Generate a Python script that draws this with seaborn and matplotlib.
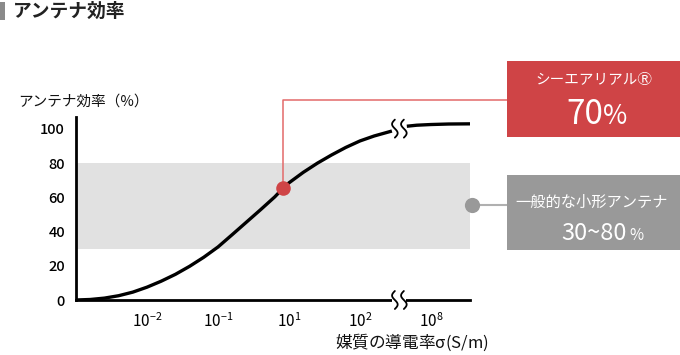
import matplotlib
matplotlib.use("Agg")
import matplotlib.pyplot as plt
import seaborn as sns
import pandas as pd
import numpy as np
from matplotlib.patches import Rectangle

# ---------------- data ----------------
title = "アンテナ効率"
y_label = "アンテナ効率（%）"
x_label = "媒質の導電率$\\sigma$(S/m)"
tick_labels = ["$10^{-2}$", "$10^{-1}$", "$10^{1}$", "$10^{2}$", "$10^{8}$"]
y_ticks = [0, 20, 40, 60, 80, 100]

# curve (x in tick-index units), split by axis break
curve_x_low = [0.0, 0.2, 0.4, 0.6, 0.8, 1.0, 1.2, 1.4, 1.6, 1.8, 2.0, 2.2, 2.4,
               2.6, 2.8, 2.92, 3.0, 3.2, 3.4, 3.6, 3.8, 4.0, 4.2, 4.45]
curve_y_low = [0.0, 0.3, 1.1, 2.5, 4.6, 7.5, 11.0, 15.0, 19.7, 25.0, 31.0, 38.2,
               45.5, 52.8, 60.3, 65.5, 68.5, 74.6, 80.0, 84.8, 89.2, 93.0, 95.9, 98.8]
curve_x_high = [4.66, 4.8, 5.0, 5.25, 5.55]
curve_y_high = [101.6, 102.2, 102.6, 102.9, 103.0]

band_low, band_high = 30, 80
highlight_x, highlight_y = 2.92, 65.5
highlight_name = "シーエアリアルⓇ"
highlight_value = "70"
band_name = "一般的な小形アンテナ"
band_value = "30~80"
break_x = 4.555

# ---------------- style ----------------
sns.set_theme(style="white")
plt.rcParams["font.family"] = ["Noto Sans CJK JP", "DejaVu Sans"]
plt.rcParams["mathtext.fontset"] = "custom"
plt.rcParams["mathtext.rm"] = "Noto Sans CJK JP:medium"
plt.rcParams["mathtext.it"] = "DejaVu Sans:italic"
plt.rcParams["mathtext.default"] = "regular"

RED = "#cf4446"
RED_LINE = "#e36a6a"
GRAY_BOX = "#999999"
GRAY_BAND = "#e1e1e1"
GRAY_LINE = "#b0b0b0"

W, H = 680, 355
fig = plt.figure(figsize=(6.8, 3.55), dpi=100)
ax = fig.add_axes([76 / W, 1 - 300 / H, 394 / W, 183 / H])

df = pd.DataFrame({
    "x": curve_x_low + curve_x_high,
    "y": curve_y_low + curve_y_high,
    "seg": ["a"] * len(curve_x_low) + ["b"] * len(curve_x_high),
})

ax.axhspan(band_low, band_high, color=GRAY_BAND, lw=0, zorder=0)
sns.lineplot(data=df, x="x", y="y", units="seg", estimator=None, color="black",
             lw=2.4, ax=ax, zorder=3, solid_capstyle="butt")

ax.set_xlim(0, 5.55)
ax.set_ylim(0, 107)
ax.set_xticks(range(1, len(tick_labels) + 1))
ax.set_xticklabels(tick_labels, fontsize=11)
ax.set_yticks(y_ticks)
ax.set_yticklabels([str(v) for v in y_ticks], fontsize=10.5, fontweight="medium")
ax.set_xlabel("")
ax.set_ylabel("")
for s in ["top", "right"]:
    ax.spines[s].set_visible(False)
for s in ["left", "bottom"]:
    ax.spines[s].set_linewidth(2.0)
    ax.spines[s].set_color("black")
ax.tick_params(axis="both", length=5, width=2, direction="out", color="black",
               labelcolor="black")
ax.tick_params(axis="y", pad=3)
ax.tick_params(axis="x", pad=4)
ax.set_facecolor("none")

# break marks (wavy) on curve and axis
px_x = 1 / 71.0
px_y = 107 / 183.0
t = np.linspace(0, 1, 40)
def wave(xc, yc, hpx=9):
    xs = xc + 2.8 * px_x * np.sin(2 * np.pi * t)
    ys = yc + (t - 0.5) * 2 * hpx * px_y
    ax.plot(xs, ys, color="black", lw=1.3, clip_on=False, zorder=6)

for yc in [100.2, 0]:
    if yc == 0:
        ax.add_patch(Rectangle((break_x - 7 * px_x, -2), 14 * px_x, 4,
                               color="white", clip_on=False, zorder=5, lw=0))
    wave(break_x - 4.5 * px_x, yc)
    wave(break_x + 4.5 * px_x, yc)

# highlight dot + connector
ax.plot([highlight_x, highlight_x, 507 / 71.0 - 76 / 71.0],
        [highlight_y, 117, 117], color=RED_LINE, lw=1.1, clip_on=False, zorder=2)
ax.scatter([highlight_x], [highlight_y], s=110, color=RED, zorder=7, lw=0)

# band connector
band_mid = (band_low + band_high) / 2 + 0.5
ax.plot([5.58, 507 / 71.0 - 76 / 71.0], [band_mid, band_mid], color=GRAY_LINE,
        lw=1.5, clip_on=False, zorder=2)
ax.scatter([5.58], [band_mid], s=120, color="#999999", zorder=7, lw=0, clip_on=False)

# boxes
fig.add_artist(Rectangle((507 / W, 1 - 137 / H), 173 / W, 76 / H,
                         transform=fig.transFigure, color=RED, lw=0))
fig.add_artist(Rectangle((507 / W, 1 - 250 / H), 173 / W, 75 / H,
                         transform=fig.transFigure, color=GRAY_BOX, lw=0))
fig.text(594 / W, 1 - 80 / H, highlight_name, color="white", fontsize=10.5,
         ha="center", va="center")
fig.text(603 / W, 1 - 124 / H, highlight_value, color="white", fontsize=24,
         ha="right", va="baseline")
fig.text(603 / W, 1 - 124 / H, "%", color="white", fontsize=19,
         ha="left", va="baseline")
fig.text(592 / W, 1 - 202 / H, band_name, color="white", fontsize=11,
         ha="center", va="center")
fig.text(627 / W, 1 - 240 / H, band_value, color="white", fontsize=17,
         ha="right", va="baseline")
fig.text(629 / W, 1 - 240 / H, "%", color="white", fontsize=11,
         ha="left", va="baseline")

# titles
fig.add_artist(Rectangle((0, 1 - 20 / H), 5 / W, 18 / H, transform=fig.transFigure,
                         color="#8a8a8a", lw=0))
fig.text(13 / W, 1 - 11 / H, title, fontsize=13.5, fontweight="bold",
         color="#222222", ha="left", va="center")
fig.text(18 / W, 1 - 102 / H, y_label, fontsize=10.5, color="#111111",
         ha="left", va="center")
fig.text(489 / W, 1 - 342 / H, x_label, fontsize=12, color="#111111",
         ha="right", va="center")

fig.savefig("out.png", dpi=100, facecolor="white")
